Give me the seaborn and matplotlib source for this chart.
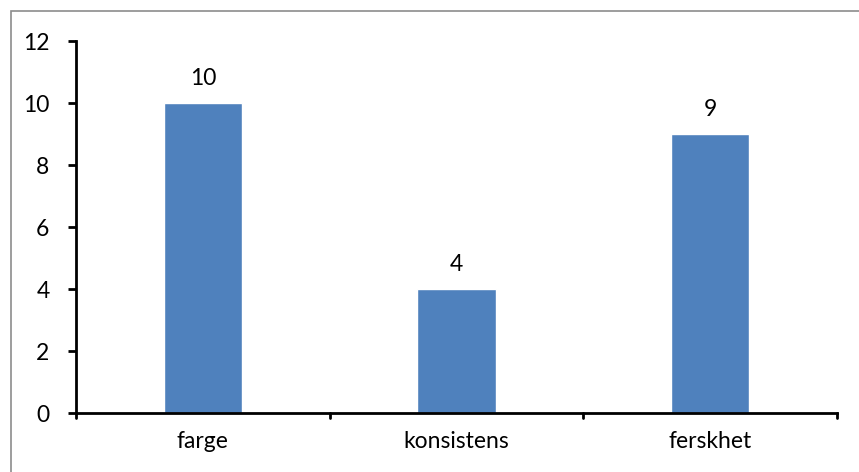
import matplotlib
matplotlib.use("Agg")
import matplotlib.pyplot as plt
import seaborn as sns
import pandas as pd
from matplotlib.patches import Rectangle

categories = ["farge", "konsistens", "ferskhet"]
values = [10, 4, 9]
y_ticks = [0, 2, 4, 6, 8, 10, 12]

sns.set_style("white")
plt.rcParams['font.family'] = ['Lato', 'DejaVu Sans']
plt.rcParams['text.color'] = 'black'
plt.rcParams['xtick.color'] = 'black'
plt.rcParams['ytick.color'] = 'black'

df = pd.DataFrame({"kategori": categories, "antall": values})

fig = plt.figure(figsize=(8.59, 4.72), dpi=100)
ax = fig.add_axes([76 / 859, 1 - 413 / 472, (837 - 76) / 859, (413 - 41) / 472])

sns.barplot(data=df, x="kategori", y="antall", color="#4f81bd", width=0.31,
            saturation=1, ax=ax)

# value labels above bars
for i, v in enumerate(values):
    ax.text(i, v + 0.45, str(v), ha="center", va="bottom", fontsize=16.5)

ax.set_ylim(0, 12)
ax.set_xlim(-0.5, 2.5)
ax.set_yticks(y_ticks)
ax.set_xlabel("")
ax.set_ylabel("")
ax.tick_params(axis="y", direction="out", length=6, width=2, labelsize=16.5, pad=13, left=True)
ax.tick_params(axis="x", length=0, labelsize=16.5, pad=13)

# category separator ticks on the x axis
for xb in [-0.5, 0.5, 1.5, 2.5]:
    ax.plot([xb, xb], [0, -0.17], color="black", lw=2, clip_on=False)

for side in ["top", "right"]:
    ax.spines[side].set_visible(False)
for side in ["left", "bottom"]:
    ax.spines[side].set_linewidth(2)
    ax.spines[side].set_color("black")

# chart area border
fig.patches.append(Rectangle((11 / 859, -0.1), 1.0, 1 - 11 / 472 + 0.1,
                             transform=fig.transFigure, fill=False,
                             edgecolor="#8c8c8c", lw=1.2))

fig.savefig("out.png", dpi=100)
